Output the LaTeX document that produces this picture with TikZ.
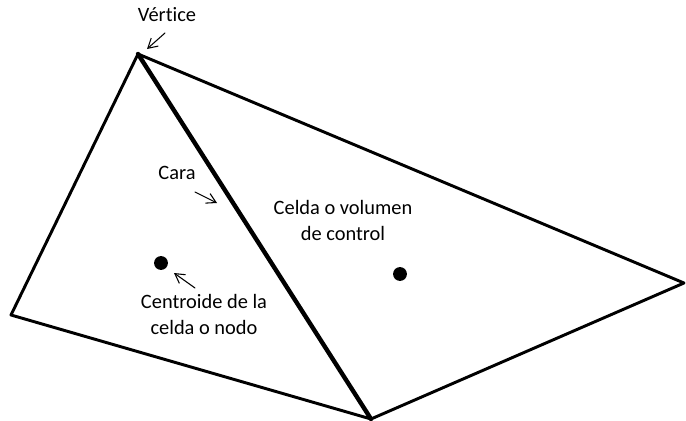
\documentclass[tikz,border=0pt]{standalone}
\usepackage{fontspec}
\setmainfont{Carlito}[Ligatures={NoCommon}]
\usetikzlibrary{arrows.meta}

\begin{document}
\begin{tikzpicture}[
  x=0.75pt,
  y=-0.75pt,
  line join=round,
  line cap=round,
  edge/.style={draw=black,line width=2.2pt},
  face/.style={draw=black,line width=3.3pt},
  label/.style={font=\fontsize{15.3}{19.5}\selectfont,align=center,inner sep=0pt},
  pointer/.style={draw=black,line width=0.8pt,-{Straight Barb[length=7pt,width=8pt]}},
  centroid/.style={fill=black}
]
  \useasboundingbox (0,0) rectangle (686,421);

  % Mesh vertices of the two triangular cells.
  \coordinate (T) at (138,54);
  \coordinate (L) at (11,315);
  \coordinate (B) at (371,419);
  \coordinate (R) at (684,283);

  % Cell outlines; the shared face is drawn heavier.
  \draw[edge] (T) -- (L) -- (B) -- (R) -- cycle;
  \draw[face] (T) -- (B);

  % Cell centroids.
  \coordinate (C1) at (161,263);
  \coordinate (C2) at (400,274);
  \foreach \p in {C1,C2} {
    \fill[centroid] (\p) circle[radius=5.2pt];
  }

  % Labels.
  \node[label] (vertice) at (167,15) {Vértice};
  \node[label] (cara) at (177,173) {Cara};
  \node[label] (celda) at (343,220) {Celda o volumen\\de control};
  \node[label] (centroide) at (204,314) {Centroide de la\\celda o nodo};

  % Pointer arrows.
  \coordinate (vtail) at (165,33);
  \coordinate (vhead) at (147,49);
  \coordinate (ctail) at (195,192);
  \coordinate (chead) at (217,203);
  \coordinate (ntail) at (195,288);
  \coordinate (nhead) at (174,273);
  \draw[pointer] (vtail) -- (vhead);
  \draw[pointer] (ctail) -- (chead);
  \draw[pointer] (ntail) -- (nhead);
\end{tikzpicture}
\end{document}
